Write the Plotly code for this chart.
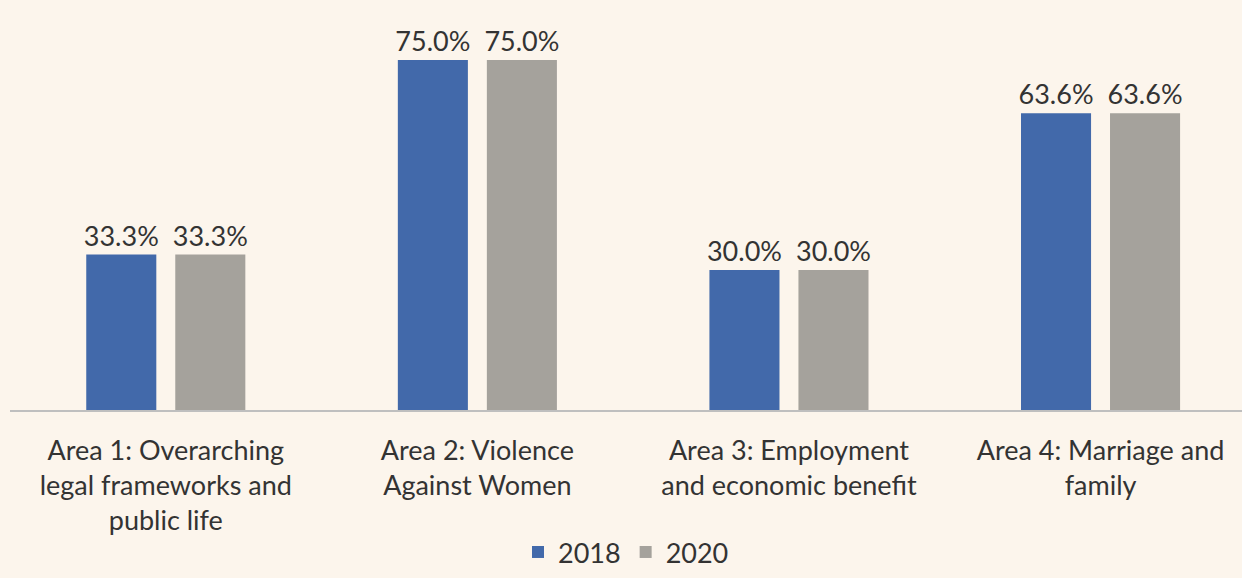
import plotly.graph_objects as go

categories = [
    "Area 1: Overarching<br>legal frameworks and<br>public life",
    "Area 2: Violence<br>Against Women",
    "Area 3: Employment<br>and economic benefit",
    "Area 4: Marriage and<br>family",
]
values_2018 = [0.333, 0.75, 0.30, 0.636]
values_2020 = [0.333, 0.75, 0.30, 0.636]
labels_2018 = ["33.3%", "75.0%", "30.0%", "63.6%"]
labels_2020 = ["33.3%", "75.0%", "30.0%", "63.6%"]

FONT = "Lato, Carlito, 'Open Sans', sans-serif"

fig = go.Figure()
fig.add_trace(go.Bar(
    name="2018", x=categories, y=values_2018,
    marker=dict(color="#4269AA", line=dict(width=0)),
    text=labels_2018, textposition="outside",
    textfont=dict(size=27, color="#333333", family=FONT),
    cliponaxis=False,
))
fig.add_trace(go.Bar(
    name="2020", x=categories, y=values_2020,
    marker=dict(color="#A5A29C", line=dict(width=0)),
    text=labels_2020, textposition="outside",
    textfont=dict(size=27, color="#333333", family=FONT),
    cliponaxis=False,
))

fig.update_layout(
    width=1242, height=578,
    margin=dict(l=10, r=0, t=20, b=168, autoexpand=False),
    paper_bgcolor="#FCF5EC", plot_bgcolor="#FCF5EC",
    barmode="group", bargap=0.4286, bargroupgap=0.213,
    font=dict(family=FONT, size=27, color="#333333"),
    showlegend=True,
    legend=dict(orientation="h", x=0.5, xanchor="center", y=-0.428, yanchor="bottom",
                font=dict(size=27, color="#333333"), itemwidth=30,
                bgcolor="rgba(0,0,0,0)"),
    uniformtext=dict(minsize=27, mode="show"),
)
fig.update_xaxes(
    range=[-0.5, 3.454], showline=True, linecolor="#BFBFBF", linewidth=1.5,
    ticks="", tickfont=dict(size=27, color="#333333"), showgrid=False,
    ticklabelstandoff=16,
)
fig.update_yaxes(
    range=[0, 0.8357], visible=False, showgrid=False, zeroline=False,
)

fig.write_html("out.html")
